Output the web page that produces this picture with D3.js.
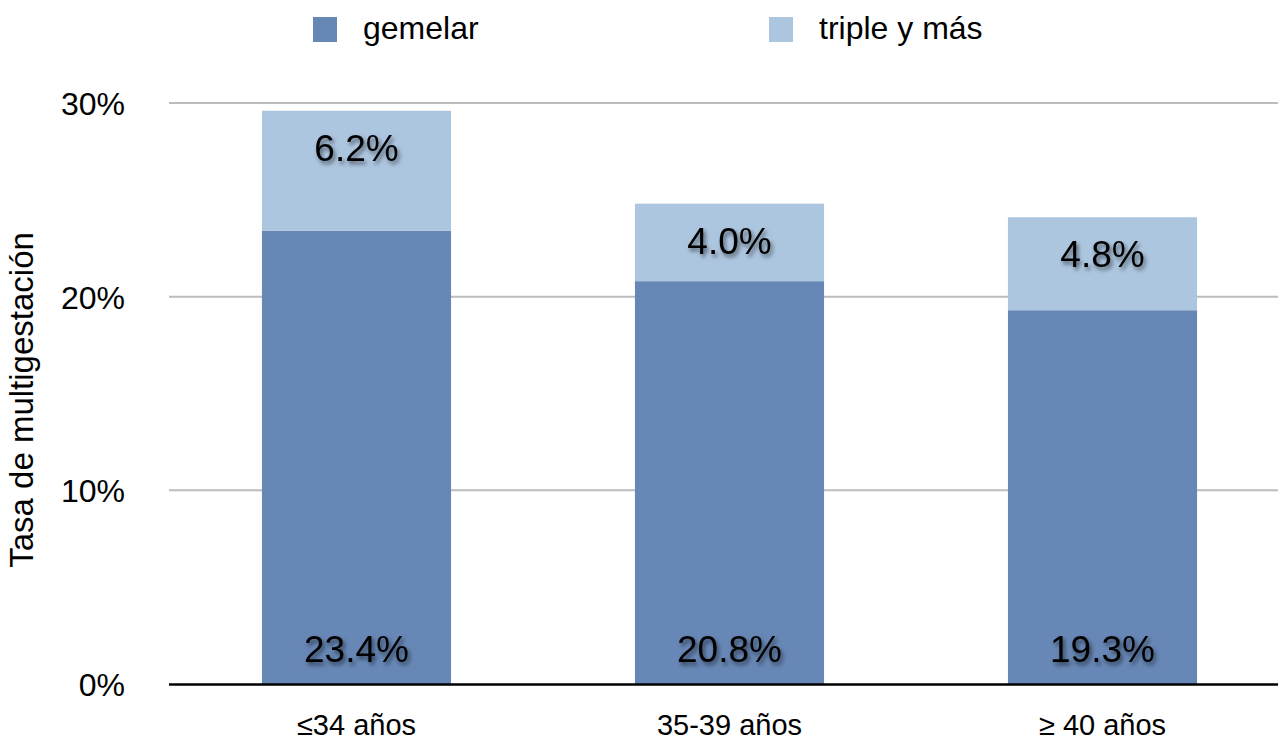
<!DOCTYPE html>
<html>
<head>
<meta charset="utf-8">
<script src="https://cdn.jsdelivr.net/npm/d3@7"></script>
<style>
  html, body { margin: 0; padding: 0; background: #fff; }
  svg { display: block; font-family: "Liberation Sans", Arial, Helvetica, sans-serif; }
</style>
</head>
<body>
<svg id="chart" width="1278" height="742"></svg>
<script>
const categories = ["≤34 años", "35-39 años", "≥ 40 años"];
const seriesNames = ["gemelar", "triple y más"];
const gemelar = [23.4, 20.8, 19.3];
const tripleYMas = [6.2, 4.0, 4.8];
const yTicks = [0, 10, 20, 30];
const yTitle = "Tasa de multigestación";
const colors = ["#6787b6", "#adc6e0"];

const svg = d3.select("#chart");
const W = 1278, H = 742;

const defs = svg.append("defs");
const f = defs.append("filter").attr("id", "shadow")
  .attr("x", "-20%").attr("y", "-30%").attr("width", "140%").attr("height", "160%");
f.append("feDropShadow").attr("dx", 2).attr("dy", 3).attr("stdDeviation", 2)
  .attr("flood-color", "#000").attr("flood-opacity", 0.55);

const x = d3.scaleBand().domain(categories).range([170, 1289])
  .paddingInner(0.493).paddingOuter(0.2465);
const y = d3.scaleLinear().domain([0, 30]).range([684, 103]);

// gridlines
svg.append("g").selectAll("line").data(yTicks.filter(t => t > 0)).join("line")
  .attr("x1", 169).attr("x2", W)
  .attr("y1", d => y(d)).attr("y2", d => y(d))
  .attr("stroke", "#bcbcbc").attr("stroke-width", 2);

// y tick labels
svg.append("g").selectAll("text").data(yTicks).join("text")
  .attr("x", 125).attr("y", d => y(d) + 12)
  .attr("text-anchor", "end").attr("font-size", 32).attr("fill", "#000")
  .text(d => d + "%");

// y title
svg.append("text")
  .attr("transform", "translate(33,400) rotate(-90)")
  .attr("text-anchor", "middle").attr("font-size", 33).attr("fill", "#000")
  .text(yTitle);

// stacked data
const rows = categories.map((c, i) => ({ cat: c, gemelar: gemelar[i], triple: tripleYMas[i] }));
const stack = d3.stack().keys(["gemelar", "triple"])(rows);

const layers = svg.append("g").selectAll("g").data(stack).join("g")
  .attr("fill", (d, i) => colors[i]);
layers.selectAll("rect").data(d => d).join("rect")
  .attr("x", d => x(d.data.cat))
  .attr("width", x.bandwidth())
  .attr("y", d => y(d[1]))
  .attr("height", d => y(d[0]) - y(d[1]));

// axis line
svg.append("line").attr("x1", 169).attr("x2", W).attr("y1", 684.5).attr("y2", 684.5)
  .attr("stroke", "#000").attr("stroke-width", 2.5);

// value labels
const fmt = d3.format(".1f");
svg.append("g").selectAll("text").data(rows).join("text")
  .attr("x", d => x(d.cat) + x.bandwidth() / 2)
  .attr("y", y(0) - 22)
  .attr("text-anchor", "middle").attr("font-size", 37).attr("fill", "#000")
  .attr("filter", "url(#shadow)")
  .text(d => fmt(d.gemelar) + "%");
svg.append("g").selectAll("text").data(rows).join("text")
  .attr("x", d => x(d.cat) + x.bandwidth() / 2)
  .attr("y", d => y(d.gemelar + d.triple) + 50)
  .attr("text-anchor", "middle").attr("font-size", 37).attr("fill", "#000")
  .attr("filter", "url(#shadow)")
  .text(d => fmt(d.triple) + "%");

// category labels
svg.append("g").selectAll("text").data(categories).join("text")
  .attr("x", d => x(d) + x.bandwidth() / 2)
  .attr("y", 735)
  .attr("text-anchor", "middle").attr("font-size", 29).attr("fill", "#000")
  .text(d => d);

// legend
const legendX = [313, 769];
const lg = svg.append("g").selectAll("g").data(seriesNames).join("g")
  .attr("transform", (d, i) => `translate(${legendX[i]},17)`);
lg.append("rect").attr("width", 24).attr("height", 25).attr("fill", (d, i) => colors[i]);
lg.append("text").attr("x", 50).attr("y", 22).attr("font-size", 32).attr("fill", "#000")
  .text(d => d);
</script>
</body>
</html>
